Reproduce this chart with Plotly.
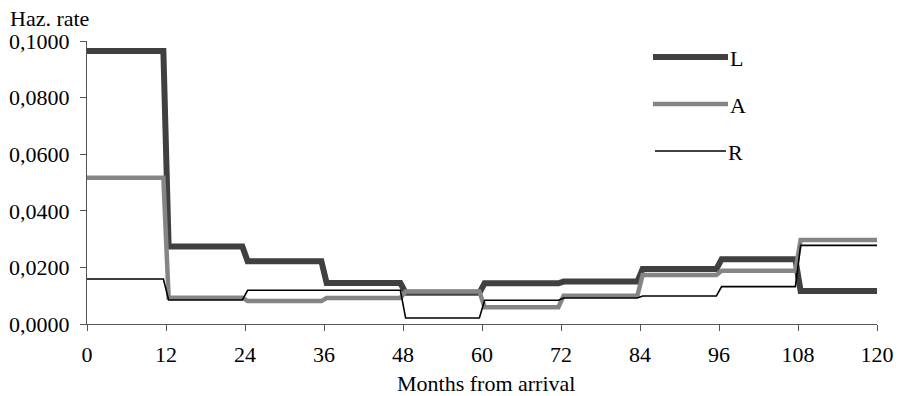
import plotly.graph_objects as go

# ---- data ----
months = [0, 12, 24, 36, 48, 60, 72, 84, 96, 108, 120]
L_vals = [0.0965, 0.0274, 0.0222, 0.0145, 0.0110, 0.0144, 0.0150, 0.0194, 0.0229, 0.0117]
A_vals = [0.0517, 0.0093, 0.0081, 0.0092, 0.0115, 0.0059, 0.0100, 0.0173, 0.0188, 0.0297]
R_vals = [0.0159, 0.0085, 0.0119, 0.0119, 0.0021, 0.0084, 0.0092, 0.0099, 0.0132, 0.0278]
y_ticks = [0.0, 0.02, 0.04, 0.06, 0.08, 0.10]
series_names = ["L", "A", "R"]

FONT = "Liberation Serif, Times New Roman, serif"
FS = 22

W, H = 900, 396
ML, MR, MT, MB = 87, 23, 41, 72
PW, PH = W - ML - MR, H - MT - MB


def step_path(vals, half=0.4):
    xs, ys = [], []
    n = len(vals)
    for i, v in enumerate(vals):
        x0 = months[i] + (half if i > 0 else 0)
        x1 = months[i + 1] - (half if i < n - 1 else 0)
        xs += [x0, x1]
        ys += [v, v]
    return xs, ys


styles = {
    "L": dict(color="#404040", width=6),
    "A": dict(color="#858585", width=4.5),
    "R": dict(color="#000000", width=1.6),
}

fig = go.Figure()
for name, vals in zip(series_names, [L_vals, A_vals, R_vals]):
    xs, ys = step_path(vals)
    fig.add_trace(go.Scatter(x=xs, y=ys, mode="lines", name=name,
                             line=dict(color=styles[name]["color"], width=styles[name]["width"]),
                             showlegend=False, hoverinfo="skip"))


def px_x(p):
    return (p - ML) / PW


def px_y(p):
    return (H - MB - p) / PH


# manual legend
legend_rows = [("L", 57, 653, 728), ("A", 104, 653, 728), ("R", 151, 655, 726)]
shapes = []
annotations = []
for name, yy, xa, xb in legend_rows:
    shapes.append(dict(type="line", xref="paper", yref="paper",
                       x0=px_x(xa), x1=px_x(xb), y0=px_y(yy), y1=px_y(yy),
                       line=dict(color=styles[name]["color"], width=styles[name]["width"])))
    annotations.append(dict(text=name, xref="paper", yref="paper", x=px_x(xb), y=px_y(yy + 1),
                            xanchor="left", yanchor="middle", showarrow=False,
                            font=dict(family=FONT, size=FS, color="#000")))

annotations.append(dict(text="Haz. rate", xref="paper", yref="paper", x=px_x(8), y=px_y(19),
                        xanchor="left", yanchor="middle", showarrow=False,
                        font=dict(family=FONT, size=FS, color="#000")))
annotations.append(dict(text="Months from arrival", xref="paper", yref="paper", x=px_x(486), y=px_y(383),
                        xanchor="center", yanchor="middle", showarrow=False,
                        font=dict(family=FONT, size=FS, color="#000")))

fig.update_layout(
    width=W, height=H,
    margin=dict(l=ML, r=MR, t=MT, b=MB, pad=0, autoexpand=False),
    paper_bgcolor="white", plot_bgcolor="white",
    separators=",.",
    shapes=shapes, annotations=annotations,
    showlegend=False,
    xaxis=dict(range=[0, 120], tickmode="array", tickvals=months, ticktext=[str(m) for m in months],
               showgrid=False, zeroline=False, showline=True, linecolor="#555", linewidth=1,
               ticks="outside", ticklen=6, tickcolor="#555", ticklabelstandoff=5, automargin=False,
               tickfont=dict(family=FONT, size=FS, color="#000")),
    yaxis=dict(range=[0, 0.1], tickmode="array", tickvals=y_ticks, tickformat=".4f",
               showgrid=False, zeroline=False, showline=True, linecolor="#555", linewidth=1,
               ticks="outside", ticklen=6, tickcolor="#555", ticklabelstandoff=6, automargin=False,
               tickfont=dict(family=FONT, size=FS, color="#000")),
)

fig.write_html("out.html")
